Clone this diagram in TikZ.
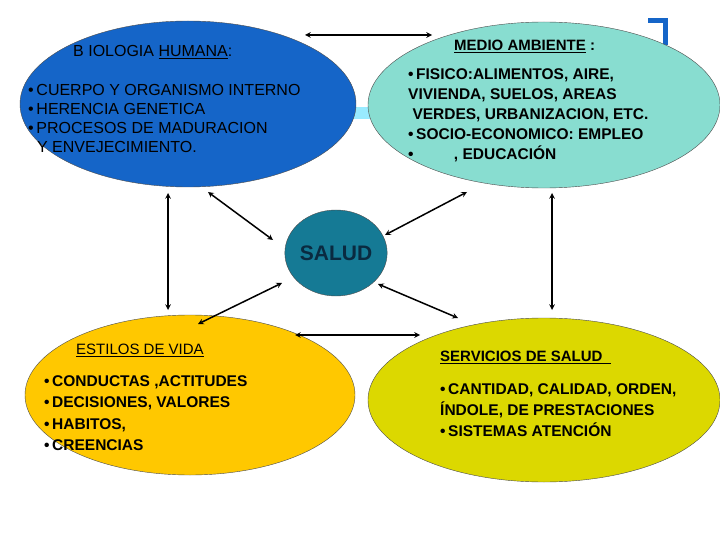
\documentclass[tikz,border=0pt]{standalone}
\usepackage{fontspec}
\setmainfont{Liberation Sans}
\usetikzlibrary{shapes.geometric}

\definecolor{bioblue}{HTML}{1565C8}
\definecolor{medteal}{HTML}{88DDD0}
\definecolor{saludteal}{HTML}{157A95}
\definecolor{saludtext}{HTML}{0A2A40}
\definecolor{estiloorange}{HTML}{FFC800}
\definecolor{servyellow}{HTML}{DCD800}

\begin{document}
\begin{tikzpicture}[
  x=1pt, y=-1pt,
  blob/.style={ellipse, draw=black!70, inner sep=0},
  txt/.style={anchor=west, align=left, font=\fontsize{16}{19}\selectfont, inner sep=0},
  ttl/.style={anchor=west, font=\fontsize{16}{19}\selectfont, inner sep=0},
  link/.style={<->, >=stealth, line width=1.5pt}
]
\useasboundingbox (0,0) rectangle (720,540);

% decoration
\fill[blue!20!cyan!40] (350,107) rectangle (370,119);
\draw[bioblue, line width=5pt] (648,21) -- (665,21) -- (665,45);

% ellipses
\node[blob, fill=bioblue, minimum width=336, minimum height=166] (bio) at (188,104) {};
\node[blob, fill=medteal, minimum width=352, minimum height=166] (medio) at (544,105) {};
\node[blob, fill=saludteal, minimum width=92, minimum height=86] (salud) at (336,253)
  {\fontsize{21}{25}\selectfont\bfseries\color{saludtext}SALUD};
\node[blob, fill=estiloorange, minimum width=330, minimum height=160] (estilo) at (190,395) {};
\node[blob, fill=servyellow, minimum width=352, minimum height=164] (serv) at (544,400) {};

% texts
\node[ttl] (biot) at (73,52) {B IOLOGIA \underline{HUMANA}:};
\node[txt] (biox) at (28,118) {\textbullet\,CUERPO Y ORGANISMO INTERNO\\
  \textbullet\,HERENCIA GENETICA\\
  \textbullet\,PROCESOS DE MADURACION\\
  \ \ Y ENVEJECIMIENTO.};
\node[ttl, font=\fontsize{15}{18}\selectfont\bfseries] (medt) at (454,46) {\underline{MEDIO AMBIENTE} :};
\node[txt, font=\fontsize{15.5}{20}\selectfont\bfseries] (medx) at (408,115) {\textbullet\,FISICO:ALIMENTOS, AIRE,\\
  VIVIENDA, SUELOS, AREAS\\
  \ VERDES, URBANIZACION, ETC.\\
  \textbullet\,SOCIO-ECONOMICO: EMPLEO\\
  \textbullet\hspace{2.6em}, EDUCACIÓN};
\node[ttl, font=\fontsize{15}{18}\selectfont] (estt) at (76,350) {\underline{ESTILOS DE VIDA}};
\node[txt, font=\fontsize{15.5}{21.5}\selectfont\bfseries] (estx) at (44,413) {\textbullet\,CONDUCTAS ,ACTITUDES\\
  \textbullet\,DECISIONES, VALORES\\
  \textbullet\,HABITOS,\\
  \textbullet\,CREENCIAS};
\node[ttl, font=\fontsize{15}{18}\selectfont\bfseries] (servt) at (440,357) {\underline{SERVICIOS DE SALUD\ \ }};
\node[txt, font=\fontsize{15.5}{21}\selectfont\bfseries] (servx) at (440,410) {\textbullet\,CANTIDAD, CALIDAD, ORDEN,\\
  ÍNDOLE, DE PRESTACIONES\\
  \textbullet\,SISTEMAS ATENCIÓN};

% arrow ends
\coordinate (a1) at (305,35);  \coordinate (b1) at (432,35);
\coordinate (a2) at (168,193); \coordinate (b2) at (168,310);
\coordinate (a3) at (552,193); \coordinate (b3) at (552,310);
\coordinate (a4) at (208,192); \coordinate (b4) at (273,240);
\coordinate (a5) at (467,192); \coordinate (b5) at (385,235);
\coordinate (a6) at (282,283); \coordinate (b6) at (198,324);
\coordinate (a7) at (378,284); \coordinate (b7) at (458,318);
\coordinate (a8) at (295,335); \coordinate (b8) at (420,335);

\foreach \i in {1,...,8}
  \draw[link] (a\i) -- (b\i);
\end{tikzpicture}
\end{document}
